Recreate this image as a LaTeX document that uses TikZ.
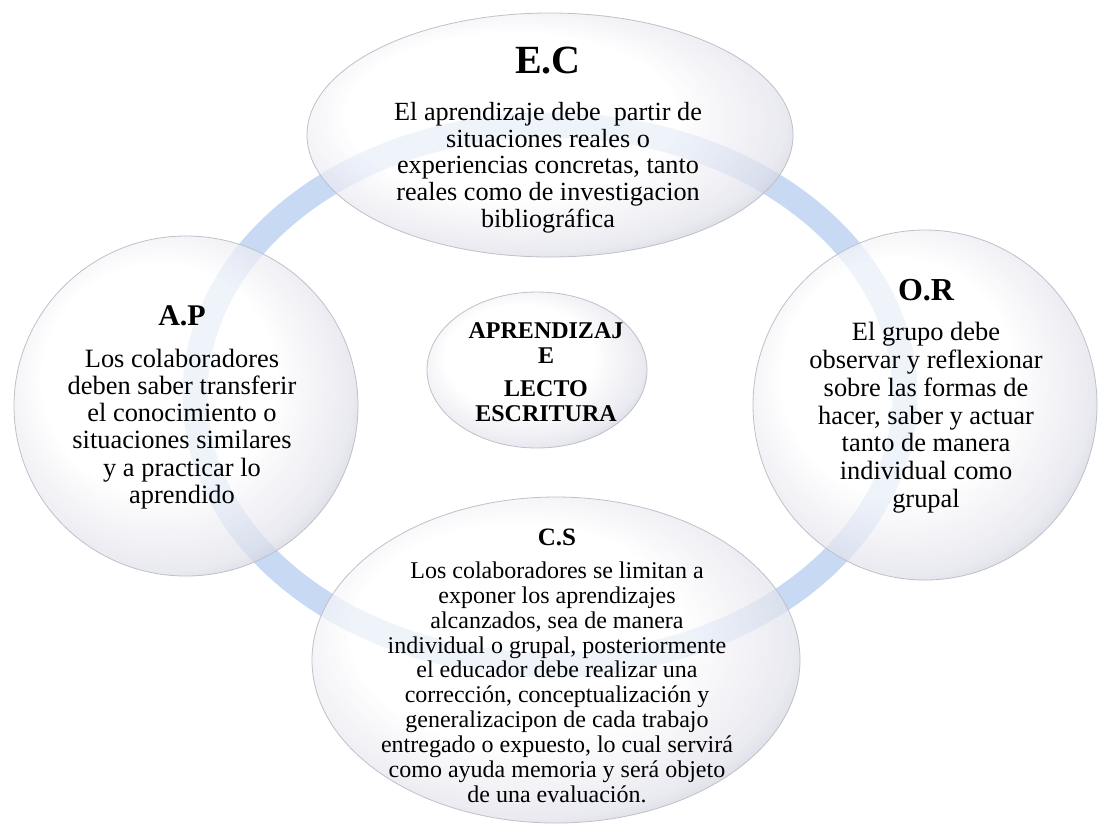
\documentclass[tikz,border=0pt]{standalone}
\usepackage{fontspec}
\setmainfont{Liberation Serif}
\usetikzlibrary{shapes.geometric}
\definecolor{aro}{RGB}{199,217,243}
\definecolor{borde}{RGB}{192,192,202}
\definecolor{sombra}{RGB}{168,168,186}
\definecolor{medio}{RGB}{226,226,236}
% el borde de la elipse queda a unos 35bp del centro de la sombra
\pgfdeclareradialshading{burbuja}{\pgfpoint{-6bp}{6bp}}{color(0bp)=(white); color(17bp)=(white); color(27bp)=(medio); color(34bp)=(sombra); color(36bp)=(borde); color(50bp)=(borde)}

\begin{document}
\begin{tikzpicture}[x=0.5pt,y=-0.5pt]
  \tikzstyle{burb}=[ellipse,draw=borde,thin,shading=burbuja,fill opacity=0.72,inner sep=0pt]
  \tikzstyle{texto}=[anchor=north,align=center,inner sep=0pt]
  \useasboundingbox[fill=white] (0,0) rectangle (1101,827);
  % aro de fondo
  \draw[aro,line width=12.5pt] (550,395) ellipse [x radius=355,y radius=270];
  % burbujas
  \node[burb,minimum width=243pt,minimum height=122pt] (ec) at (550,135) {};
  \node[burb,minimum width=172pt,minimum height=170pt] (ap) at (186,406) {};
  \node[burb,minimum width=172pt,minimum height=175pt] (ore) at (925,405) {};
  \node[burb,minimum width=244pt,minimum height=163pt] (cs) at (556,660) {};
  \node[burb,minimum width=110pt,minimum height=78pt] (lec) at (537,370) {};
  % textos
  \node[texto,font=\fontsize{13.1}{13.4}\selectfont] (ectxt) at (548,46.5)
    {{\fontsize{20}{24}\selectfont\bfseries E.C}\\[10.1pt]
     El aprendizaje debe\ \ partir de\\situaciones reales o\\experiencias concretas, tanto\\reales como de investigacion\\bibliográfica};
  \node[texto,font=\fontsize{13.2}{13.6}\selectfont] (aptxt) at (182,305)
    {{\fontsize{15}{18}\selectfont\bfseries A.P}\\[7.4pt]
     Los colaboradores\\deben saber transferir\\el conocimiento o\\situaciones similares\\y a practicar lo\\aprendido};
  \node[texto,font=\fontsize{13.2}{13.9}\selectfont] (oretxt) at (926,279)
    {{\fontsize{16}{19}\selectfont\bfseries O.R}\\[6.1pt]
     El grupo debe\\observar y reflexionar\\sobre las formas de\\hacer, saber y actuar\\tanto de manera\\individual como\\grupal};
  \node[texto,font=\fontsize{12}{12.45}\selectfont] (cstxt) at (557,528.5)
    {{\fontsize{12.5}{15}\selectfont\bfseries C.S}\\[4pt]
     Los colaboradores se limitan a\\exponer los aprendizajes\\alcanzados, sea de manera\\individual o grupal, posteriormente\\el educador debe realizar una\\corrección, conceptualización y\\generalizacipon de cada trabajo\\entregado o expuesto, lo cual servirá\\como ayuda memoria y será objeto\\de una evaluación.};
  \node[texto,font=\fontsize{12}{12.5}\selectfont\bfseries] (lectxt) at (546,322)
    {APRENDIZAJ\\E\\[4pt]LECTO\\ESCRITURA};
\end{tikzpicture}
\end{document}
